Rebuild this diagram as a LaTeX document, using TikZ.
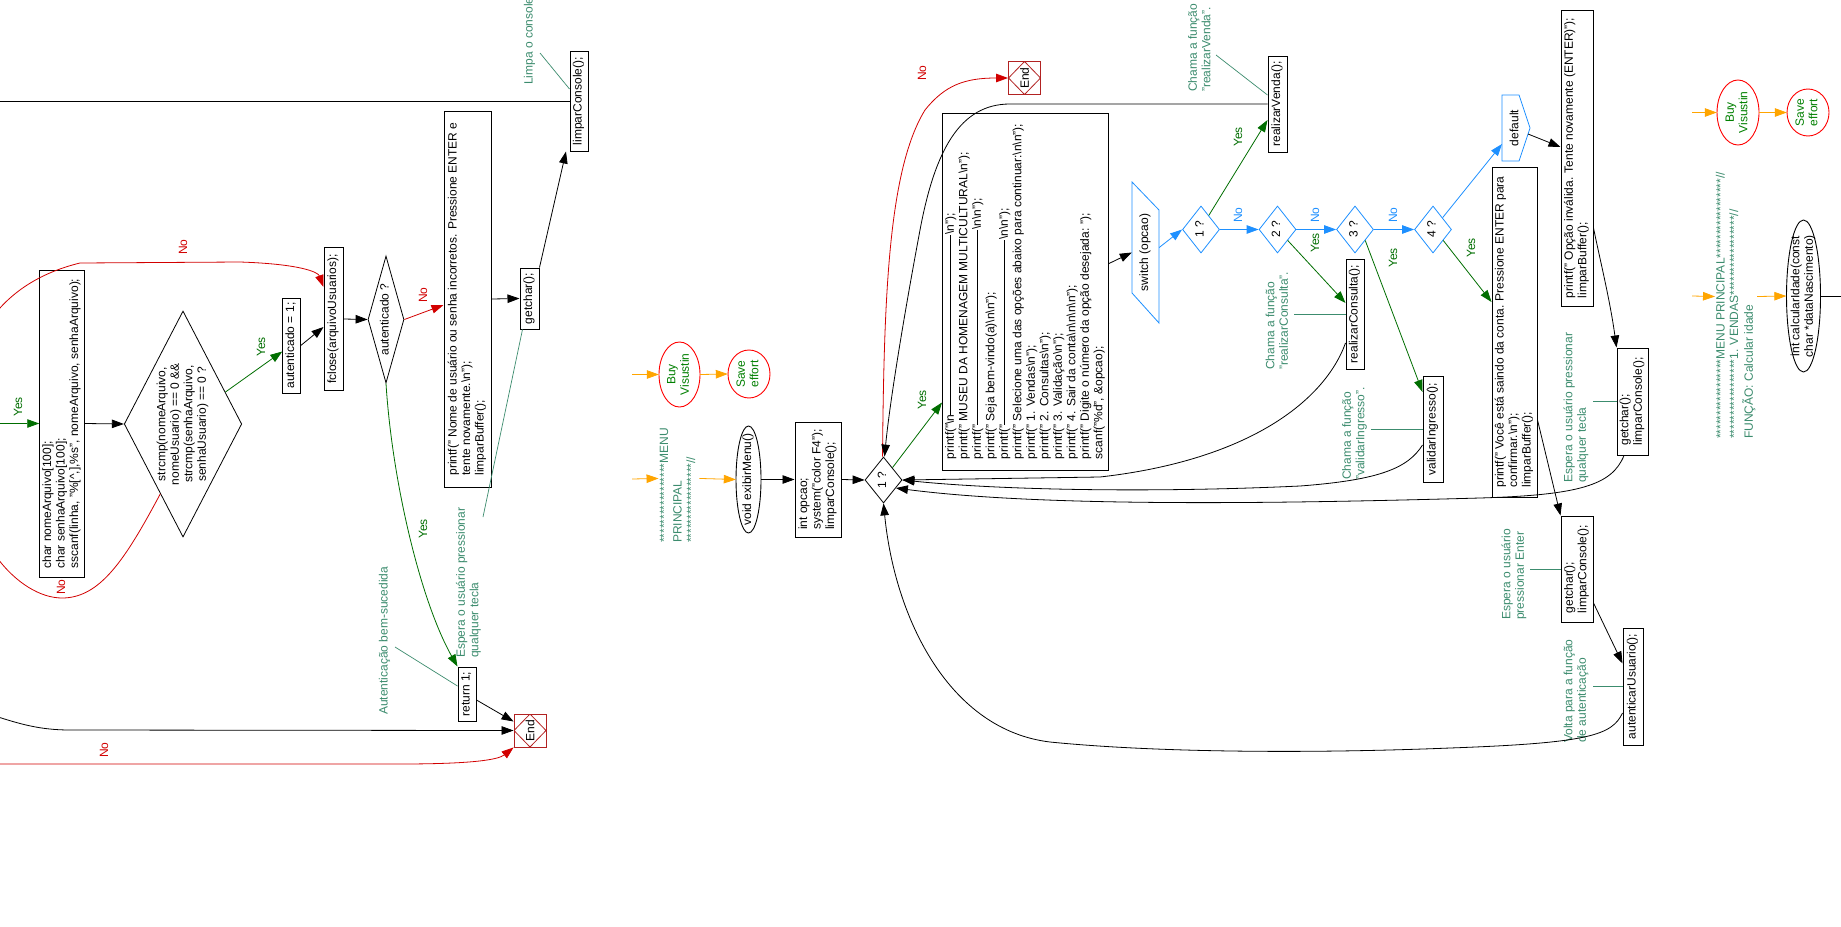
\documentclass[tikz,border=0pt]{standalone}
\usepackage{fontspec}
\setmainfont{Liberation Sans}
\usepackage{graphicx}
\usetikzlibrary{shapes.geometric,arrows.meta}
\definecolor{anncol}{RGB}{60,140,110}
\definecolor{yescol}{RGB}{0,110,0}
\definecolor{nocol}{RGB}{210,0,0}
\definecolor{bluecol}{RGB}{30,144,255}
\definecolor{orangecol}{RGB}{255,165,0}
\definecolor{endcol}{RGB}{178,34,34}
\definecolor{buycol}{RGB}{0,128,0}
\newcommand{\rtl}[1]{\rotatebox{90}{\begin{tabular}{@{}l@{}}#1\end{tabular}}}
\newcommand{\rtc}[1]{\rotatebox{90}{\begin{tabular}{@{}c@{}}#1\end{tabular}}}
\newcommand{\bsl}{\textbackslash}
\newcommand{\dashln}[1]{\rule[0.32em]{#1pt}{0.5pt}}
\newcommand{\stars}{*****************}
\begin{document}
\begin{tikzpicture}[x=1pt,y=-1pt, font=\fontsize{12}{13.5}\selectfont,
  >={Triangle[length=12pt,width=8.5pt]},
  box/.style={draw, rectangle, line width=1pt, inner sep=2pt},
  dia/.style={draw, diamond, line width=0.8pt, inner sep=0pt},
  bdia/.style={dia, draw=bluecol, aspect=0.8, minimum width=37, minimum height=47},
  ellbox/.style={inner sep=0pt},
  buytxt/.style={ellbox, text=buycol},
  ellline/.style={line width=0.9pt},
  ann/.style={text=anncol, inner sep=0pt},
  lead/.style={draw=anncol, line width=0.7pt},
  conn/.style={line width=0.8pt},
  flow/.style={conn, ->},
  yesflow/.style={flow, draw=yescol},
  noflow/.style={flow, draw=nocol},
  blueflow/.style={flow, draw=bluecol},
  orflow/.style={flow, draw=orangecol},
  lab/.style={inner sep=0pt},
  yeslab/.style={lab, text=yescol},
  nolab/.style={lab, text=nocol},
  bnolab/.style={lab, text=bluecol},
  endbox/.style={draw=endcol, line width=0.9pt, rectangle, minimum width=32, minimum height=33, inner sep=0pt,
    path picture={\draw[endcol, line width=0.8pt] (path picture bounding box.north) -- (path picture bounding box.east) -- (path picture bounding box.south) -- (path picture bounding box.west) -- cycle;}}
]
\fill[white] (0,0) rectangle (1841,926);
\useasboundingbox (0,0) rectangle (1841,926);

% ---------- free-end coordinates ----------
\coordinate (offL1) at (-5,101);
\coordinate (offL2) at (-5,423.5);
\coordinate (offL3) at (-5,716);
\coordinate (offL4) at (-5,764);
\coordinate (offR) at (1850,296);
\coordinate (lpA) at (540,53);
\coordinate (abA) at (395,647);
\coordinate (e1A) at (483,517);
\coordinate (o1) at (632,374.5);
\coordinate (o2) at (632,479);
\coordinate (o3) at (1692,112.5);
\coordinate (o4) at (1692,296);
\coordinate (vA) at (1216,55);
\coordinate (cA) at (1294,314);
\coordinate (viA) at (1371,429);
\coordinate (e2A) at (1593,401.5);
\coordinate (enA) at (1530,569);
\coordinate (voA) at (1593,686.5);

% ---------- left part ----------
\node[box, minimum width=18, minimum height=100] (limpar1) at (579,101) {\rtl{limparConsole();}};
\node[box, minimum width=19, minimum height=61] (getchar1) at (529.5,298.5) {\rtl{getchar();}};
\node[box, minimum width=47, minimum height=376] (nome) at (467.5,299) {\rtl{printf(" Nome de usuário ou senha incorretos. Pressione ENTER e\\tente novamente.\bsl n");\\limparBuffer();}};
\node[dia, aspect=0.283, minimum width=36, minimum height=127] (autq) at (386,319.5) {\rtc{autenticado ?}};
\node[box, minimum width=19, minimum height=143] (fclose) at (333.5,319) {\rtl{fclose(arquivoUsuarios);}};
\node[box, minimum width=17, minimum height=95] (aut1) at (291.5,345.5) {\rtl{autenticado = 1;}};
\node[dia, aspect=0.52, minimum width=117.5, minimum height=226] (strcmp) at (183,424) {\rtc{strcmp(nomeArquivo,\\nomeUsuario) == 0 \&\&\\strcmp(senhaArquivo,\\senhaUsuario) == 0 ?}};
\node[box, minimum width=44, minimum height=307] (chars) at (62,423.5) {\rtl{char nomeArquivo[100];\\char senhaArquivo[100];\\sscanf(linha, "\%[\textasciicircum,],\%s", nomeArquivo, senhaArquivo);}};
\node[box, minimum width=18, minimum height=54] (ret) at (467,694) {\rtl{return 1;}};
\node[endbox] (end1) at (530,730.5) {\rotatebox{90}{End}};

\node[ann, anchor=south] (limpaTxt) at (530,85) {\rtl{Limpa o console}};
\node[ann, anchor=south] (autbemTxt) at (385,715) {\rtl{Autenticação bem-sucedida}};
\node[ann, anchor=south] (espera1Txt) at (469,658) {\rtl{Espera o usuário pressionar\\qualquer tecla}};

\draw[conn] (limpar1.west) -- (offL1);
\draw[flow] (getchar1.north east) -- ([shift={(-13,0)}]limpar1.south);
\draw[flow] (nome.east) -- (getchar1.west);
\draw[noflow] (autq.east) -- ([shift={(0,6)}]nome.west);
\draw[yesflow] (autq.south) .. controls (392,480) and (420,600) .. (ret.north west);
\draw[flow] (fclose.east) -- (autq.west);
\draw[flow] (aut1.east) -- ([shift={(0,8)}]fclose.west);
\draw[yesflow] (strcmp.37) -- ([shift={(0,6)}]aut1.west);
\draw[flow] (chars.east) -- (strcmp.west);
\draw[yesflow] (offL2) -- (chars.west);
\draw[noflow] (strcmp.252) .. controls (125,560) and (100,598) .. (62,598) .. controls (20,598) and (-40,540) .. (-40,430) .. controls (-40,330) and (10,280) .. (80,263) -- (240,262) .. controls (300,264) and (318,272) .. ([shift={(0,-32)}]fclose.west);
\draw[flow] (offL3) .. controls (20,724) and (40,730) .. (70,730) -- (end1.west);
\draw[noflow] (offL4) -- (400,764) .. controls (470,764) and (498,760) .. (end1.south west);
\draw[flow] ([shift={(0,6)}]ret.east) -- ([shift={(0,-9)}]end1.west);
\draw[lead] (lpA) -- ([shift={(0,-12)}]limpar1.west);
\draw[lead] (abA) -- ([shift={(0,-8)}]ret.west);
\draw[lead] ([shift={(-7,0)}]getchar1.south) -- (e1A);

\node[yeslab] (ly1) at (18,407) {\rotatebox{90}{Yes}};
\node[yeslab] (ly2) at (261,347) {\rotatebox{90}{Yes}};
\node[yeslab] (ly3) at (423,529) {\rotatebox{90}{Yes}};
\node[nolab] (ln1) at (423,295) {\rotatebox{90}{No}};
\node[nolab] (ln2) at (61,587) {\rotatebox{90}{No}};
\node[nolab] (ln3) at (183,247) {\rotatebox{90}{No}};
\node[nolab] (ln4) at (104,750) {\rotatebox{90}{No}};

% ---------- middle part ----------
\node[buytxt, minimum width=41, minimum height=65] (buy1) at (679.5,374.5) {\rtc{Buy\\Visustin}};
\node[buytxt, minimum width=42, minimum height=48] (save1) at (749,374) {\rtc{Save\\effort}};
\draw[ellline, red] (buy1.center) ellipse [x radius=20.5, y radius=32.5];
\draw[ellline, red] (save1.center) ellipse [x radius=21, y radius=24];
\node[ann, anchor=south] (menuTxt1) at (679,543) {\rtl{\stars MENU\\PRINCIPAL\\\stars//}};
\node[ellbox, minimum width=25, minimum height=107] (exib) at (748.5,479.5) {\rtc{void exibirMenu()}};
\draw[ellline] (exib.center) ellipse [x radius=12.5, y radius=53.5];
\node[box, minimum width=46, minimum height=115] (intop) at (818,479.5) {\rtl{int opcao;\\system("color F4");\\limparConsole();}};
\node[dia, aspect=0.8, minimum width=37, minimum height=46] (d1) at (883.5,480) {\rtc{1 ?}};
\node[box, minimum width=165, minimum height=357] (big) at (1025.5,291.5) {\rtl{printf("\bsl n\dashln{180}\bsl n");\\printf(" MUSEU DA HOMENAGEM MULTICULTURAL\bsl n");\\printf("\dashln{195}\bsl n\bsl n");\\printf(" Seja bem-vindo(a)\bsl n\bsl n");\\printf("\dashln{185}\bsl n\bsl n");\\printf(" Selecione uma das opções abaixo para continuar:\bsl n\bsl n");\\printf(" 1. Vendas\bsl n");\\printf(" 2. Consultas\bsl n");\\printf(" 3. Validação\bsl n");\\printf(" 4. Sair da conta\bsl n\bsl n\bsl n\bsl n");\\printf(" Digite o número da opção desejada: ");\\scanf("\%d", \&opcao);}};
\node[endbox] (end2) at (1024.5,78) {\rotatebox{90}{End}};
\node[box, minimum width=19, minimum height=96] (venda) at (1277.5,104) {\rtl{realizarVenda();}};
\node[inner sep=0pt, minimum width=27, minimum height=141] (sw) at (1145.5,252.5) {\rtl{switch (opcao)}};
\draw[bluecol, line width=0.8pt] ([shift={(-13.5,-70.5)}]sw.center) -- ([shift={(13.5,-42.5)}]sw.center) -- ([shift={(13.5,70.5)}]sw.center) -- ([shift={(-13.5,40.5)}]sw.center) -- cycle;
\node[bdia] (b1) at (1201,229.5) {\rtc{1 ?}};
\node[bdia] (b2) at (1277.5,229.5) {\rtc{2 ?}};
\node[bdia] (b3) at (1355,229.5) {\rtc{3 ?}};
\node[bdia] (b4) at (1433,229.5) {\rtc{4 ?}};
\node[box, minimum width=18, minimum height=110] (consulta) at (1355,314) {\rtl{realizarConsulta();}};
\node[box, minimum width=20, minimum height=106] (valid) at (1433,429) {\rtl{validarIngresso();}};
\node[box, minimum width=45, minimum height=330] (voce) at (1514.5,332) {\rtl{printf(" Você está saindo da conta. Pressione ENTER para\\confirmar.\bsl n");\\limparBuffer();}};
\node[inner sep=0pt, minimum width=26, minimum height=66] (default) at (1514,128) {\rotatebox{90}{default}};
\draw[bluecol, line width=0.8pt] ([shift={(-12,-33)}]default.center) -- ([shift={(5,-33)}]default.center) -- ([shift={(16,0)}]default.center) -- ([shift={(5,33)}]default.center) -- ([shift={(-12,33)}]default.center) -- cycle;
\node[box, minimum width=32, minimum height=296] (opcao) at (1577,158) {\rtl{printf(" Opção inválida. Tente novamente (ENTER)");\\limparBuffer();}};
\node[box, minimum width=31, minimum height=107] (gl2) at (1632.5,401.5) {\rtl{getchar();\\limparConsole();}};
\node[box, minimum width=32, minimum height=106] (gl1) at (1577,569) {\rtl{getchar();\\limparConsole();}};
\node[box, minimum width=20, minimum height=117] (autent) at (1633,686.5) {\rtl{autenticarUsuario();}};

\node[ann, anchor=south] (vendaTxt) at (1201,92) {\rtl{Chama a função\\"realizarVenda".}};
\node[ann, anchor=south] (consultaTxt) at (1278.5,370) {\rtl{Chama a função\\"realizarConsulta".}};
\node[ann, anchor=south] (validTxt) at (1355,480) {\rtl{Chama a função\\"validarIngresso".}};
\node[ann, anchor=south] (espera2Txt) at (1576.5,483) {\rtl{Espera o usuário pressionar\\qualquer tecla}};
\node[ann, anchor=south] (enterTxt) at (1514.5,620) {\rtl{Espera o usuário\\pressionar Enter}};
\node[ann, anchor=south] (voltaTxt) at (1576.5,743) {\rtl{Volta para a função\\de autenticação}};

\draw[orflow] (o1) -- (buy1.west);
\draw[orflow] (buy1.east) -- (save1.west);
\draw[orflow] (o2) -- ([shift={(0,-7)}]menuTxt1.west);
\draw[orflow] ([shift={(0,-7)}]menuTxt1.east) -- (exib.west);
\draw[flow] (exib.east) -- (intop.west);
\draw[flow] (intop.east) -- (d1.west);
\draw[yesflow] (d1.54) -- ([shift={(0,-68)}]big.south west);
\draw[noflow] ([shift={(-1,0)}]d1.north) .. controls (884,300) and (888,170) .. (925,110) .. controls (945,85) and (965,78) .. (end2.west);
\draw[flow] (venda.west) -- (1010,104) .. controls (960,104) and (935,150) .. (920,230) .. controls (905,310) and (890,400) .. ([shift={(1,0)}]d1.north);
\draw[flow] ([shift={(0,-28)}]big.east) -- (sw.west);
\draw[blueflow] ([shift={(0,-5)}]sw.east) -- (b1.west);
\draw[blueflow] (b1.east) -- (b2.west);
\draw[blueflow] (b2.east) -- (b3.west);
\draw[blueflow] (b3.east) -- (b4.west);
\draw[blueflow] (b4.51) -- ([shift={(-12,16)}]default.center);
\draw[flow] ([shift={(14,6)}]default.center) -- ([shift={(0,-11)}]opcao.west);
\draw[yesflow] (b1.61) -- ([shift={(0,16)}]venda.west);
\draw[yesflow] (b2.-47) -- ([shift={(0,-11)}]consulta.west);
\draw[yesflow] (b3.-47) -- ([shift={(0,-37)}]valid.west);
\draw[yesflow] (b4.-47) -- ([shift={(0,-30)}]voce.west);
\draw[flow] ([shift={(0,29)}]consulta.west) .. controls (1325,400) and (1250,460) .. (1100,477) -- (d1.east);
\draw[flow] ([shift={(0,16)}]valid.west) .. controls (1408,468) and (1380,480) .. (1300,486) .. controls (1150,493) and (1000,490) .. (d1.east);
\draw[flow] ([shift={(-8.5,0)}]gl2.south) .. controls (1612,485) and (1580,495) .. (1480,498) .. controls (1300,503) and (1050,508) .. (d1.-33);
\draw[flow] ([shift={(0,26.5)}]autent.west) .. controls (1612,735) and (1590,743) .. (1450,748) .. controls (1300,754) and (1150,752) .. (1050,742) .. controls (950,730) and (895,620) .. (d1.south);
\draw[flow] ([shift={(0,88)}]voce.east) -- (gl1.north west);
\draw[flow] ([shift={(0,34)}]gl1.east) -- ([shift={(0,-23)}]autent.west);
\draw[flow] ([shift={(0,70)}]opcao.east) .. controls (1600,260) and (1610,300) .. (gl2.north west);
\draw[lead] (vA) -- ([shift={(0,-9)}]venda.west);
\draw[lead] (cA) -- (consulta.west);
\draw[lead] (viA) -- (valid.west);
\draw[lead] (e2A) -- (gl2.west);
\draw[lead] (enA) -- (gl1.west);
\draw[lead] (voA) -- (autent.west);

\node[yeslab] (ly4) at (922,400) {\rotatebox{90}{Yes}};
\node[nolab] (ln5) at (922,73) {\rotatebox{90}{No}};
\node[yeslab] (ly5) at (1238,137) {\rotatebox{90}{Yes}};
\node[bnolab] (lb1) at (1238,215) {\rotatebox{90}{No}};
\node[bnolab] (lb2) at (1315,215) {\rotatebox{90}{No}};
\node[bnolab] (lb3) at (1393,215) {\rotatebox{90}{No}};
\node[yeslab] (ly6) at (1315,243) {\rotatebox{90}{Yes}};
\node[yeslab] (ly7) at (1393,258) {\rotatebox{90}{Yes}};
\node[yeslab] (ly8) at (1471,248) {\rotatebox{90}{Yes}};

% ---------- right part ----------
\node[buytxt, minimum width=42, minimum height=65] (buy2) at (1738,112.5) {\rtc{Buy\\Visustin}};
\node[buytxt, minimum width=42, minimum height=47] (save2) at (1808,112.5) {\rtc{Save\\effort}};
\draw[ellline, red] (buy2.center) ellipse [x radius=21, y radius=32.5];
\draw[ellline, red] (save2.center) ellipse [x radius=21, y radius=23.5];
\node[ann, anchor=south] (menuTxt2) at (1736,439) {\rtl{\stars MENU PRINCIPAL\stars//\\\stars 1. VENDAS\stars//\\FUNÇÃO: Calcular idade}};
\node[ellbox, minimum width=34, minimum height=152] (calc) at (1803.5,296) {\rtc{int calcularIdade(const\\char *dataNascimento)}};
\draw[ellline] (calc.center) ellipse [x radius=17, y radius=76];
\draw[orflow] (o3) -- (buy2.west);
\draw[orflow] (buy2.east) -- (save2.west);
\draw[orflow] (o4) -- ([shift={(0,-9)}]menuTxt2.west);
\draw[orflow] ([shift={(0,-9)}]menuTxt2.east) -- (calc.west);
\draw[conn] (calc.east) -- (offR);
\end{tikzpicture}
\end{document}
